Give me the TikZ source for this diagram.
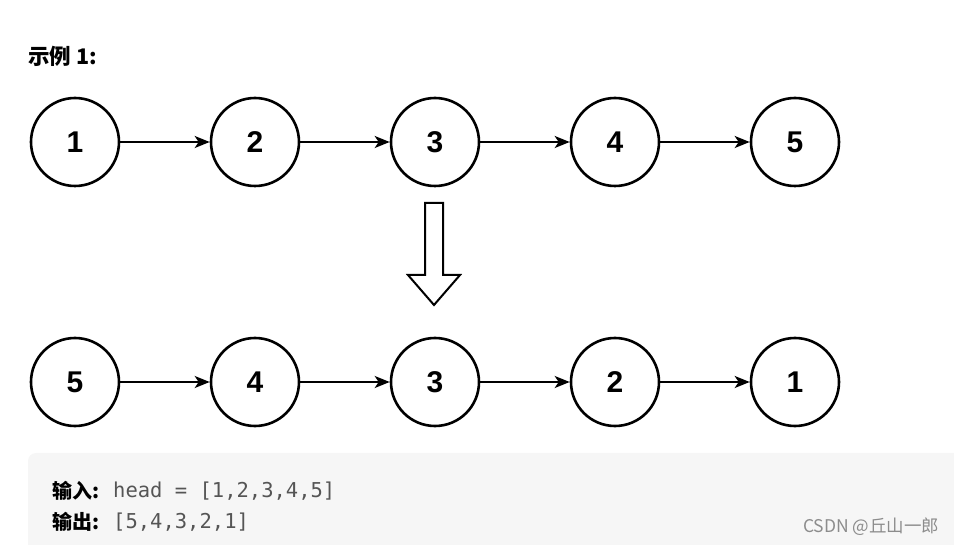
\documentclass[tikz,border=0pt]{standalone}
\usepackage{fontspec}
\setmainfont{Liberation Sans}
\setmonofont{DejaVu Sans Mono}
\newfontfamily\cjk{Noto Sans CJK SC}
\usetikzlibrary{positioning,arrows.meta}

\definecolor{boxgray}{HTML}{F6F6F6}
\definecolor{codegray}{HTML}{555555}

\tikzset{
  elem/.style={draw, circle, line width=2.6pt, minimum size=88pt, inner sep=0pt, font=\fontsize{30}{30}\selectfont\bfseries},
  link/.style={line width=2.2pt, -{Stealth[length=15pt,width=12pt,inset=4pt]}},
}

\begin{document}
\begin{tikzpicture}[x=1pt, y=-1pt]
\useasboundingbox (0,0) rectangle (954,545);

\def\x{75}
\def\y{142}

\node[anchor=west, inner sep=0pt, font=\cjk\fontsize{21.5}{21.5}\selectfont\bfseries] (title) at (28, 56) {示例 1:};

\node[elem] (a) at (\x + 0, \y) {1};
\node[elem] (b) at (\x + 180, \y) {2};
\node[elem] (c) at (\x + 360, \y) {3};
\node[elem] (d) at (\x + 540, \y) {4};
\node[elem] (e) at (\x + 720, \y) {5};

\draw[link] (a) -- (b);
\draw[link] (b) -- (c);
\draw[link] (c) -- (d);
\draw[link] (d) -- (e);

% hollow arrow between the lists
\draw[line width=2pt, line join=miter] (425,203) -- (443,203) -- (443,275) -- (460,275) -- (434,305) -- (408,275) -- (425,275) -- cycle;

\def\y{382}

\node[elem] (f) at (\x + 0, \y) {5};
\node[elem] (g) at (\x + 180, \y) {4};
\node[elem] (h) at (\x + 360, \y) {3};
\node[elem] (i) at (\x + 540, \y) {2};
\node[elem] (j) at (\x + 720, \y) {1};

\draw[link] (f) -- (g);
\draw[link] (g) -- (h);
\draw[link] (h) -- (i);
\draw[link] (i) -- (j);

% example box
\fill[boxgray, rounded corners=8pt] (28,453) rectangle (970,570);
\node[anchor=west, inner sep=0pt, font=\cjk\fontsize{20}{20}\selectfont\bfseries] (inlbl) at (52, 491) {输入:};
\node[anchor=west, inner sep=0pt, text=codegray, font=\ttfamily\fontsize{20.5}{20.5}\selectfont] (incode) at (113, 491) {head = [1,2,3,4,5]};
\node[anchor=west, inner sep=0pt, font=\cjk\fontsize{20}{20}\selectfont\bfseries] (outlbl) at (52, 522) {输出:};
\node[anchor=west, inner sep=0pt, text=codegray, font=\ttfamily\fontsize{20.5}{20.5}\selectfont] (outcode) at (113, 522) {[5,4,3,2,1]};
\node[anchor=west, inner sep=0pt, text=black!45, font=\cjk\fontsize{17.5}{17.5}\selectfont] (mark) at (803, 527) {CSDN @丘山一郎};

\end{tikzpicture}
\end{document}
